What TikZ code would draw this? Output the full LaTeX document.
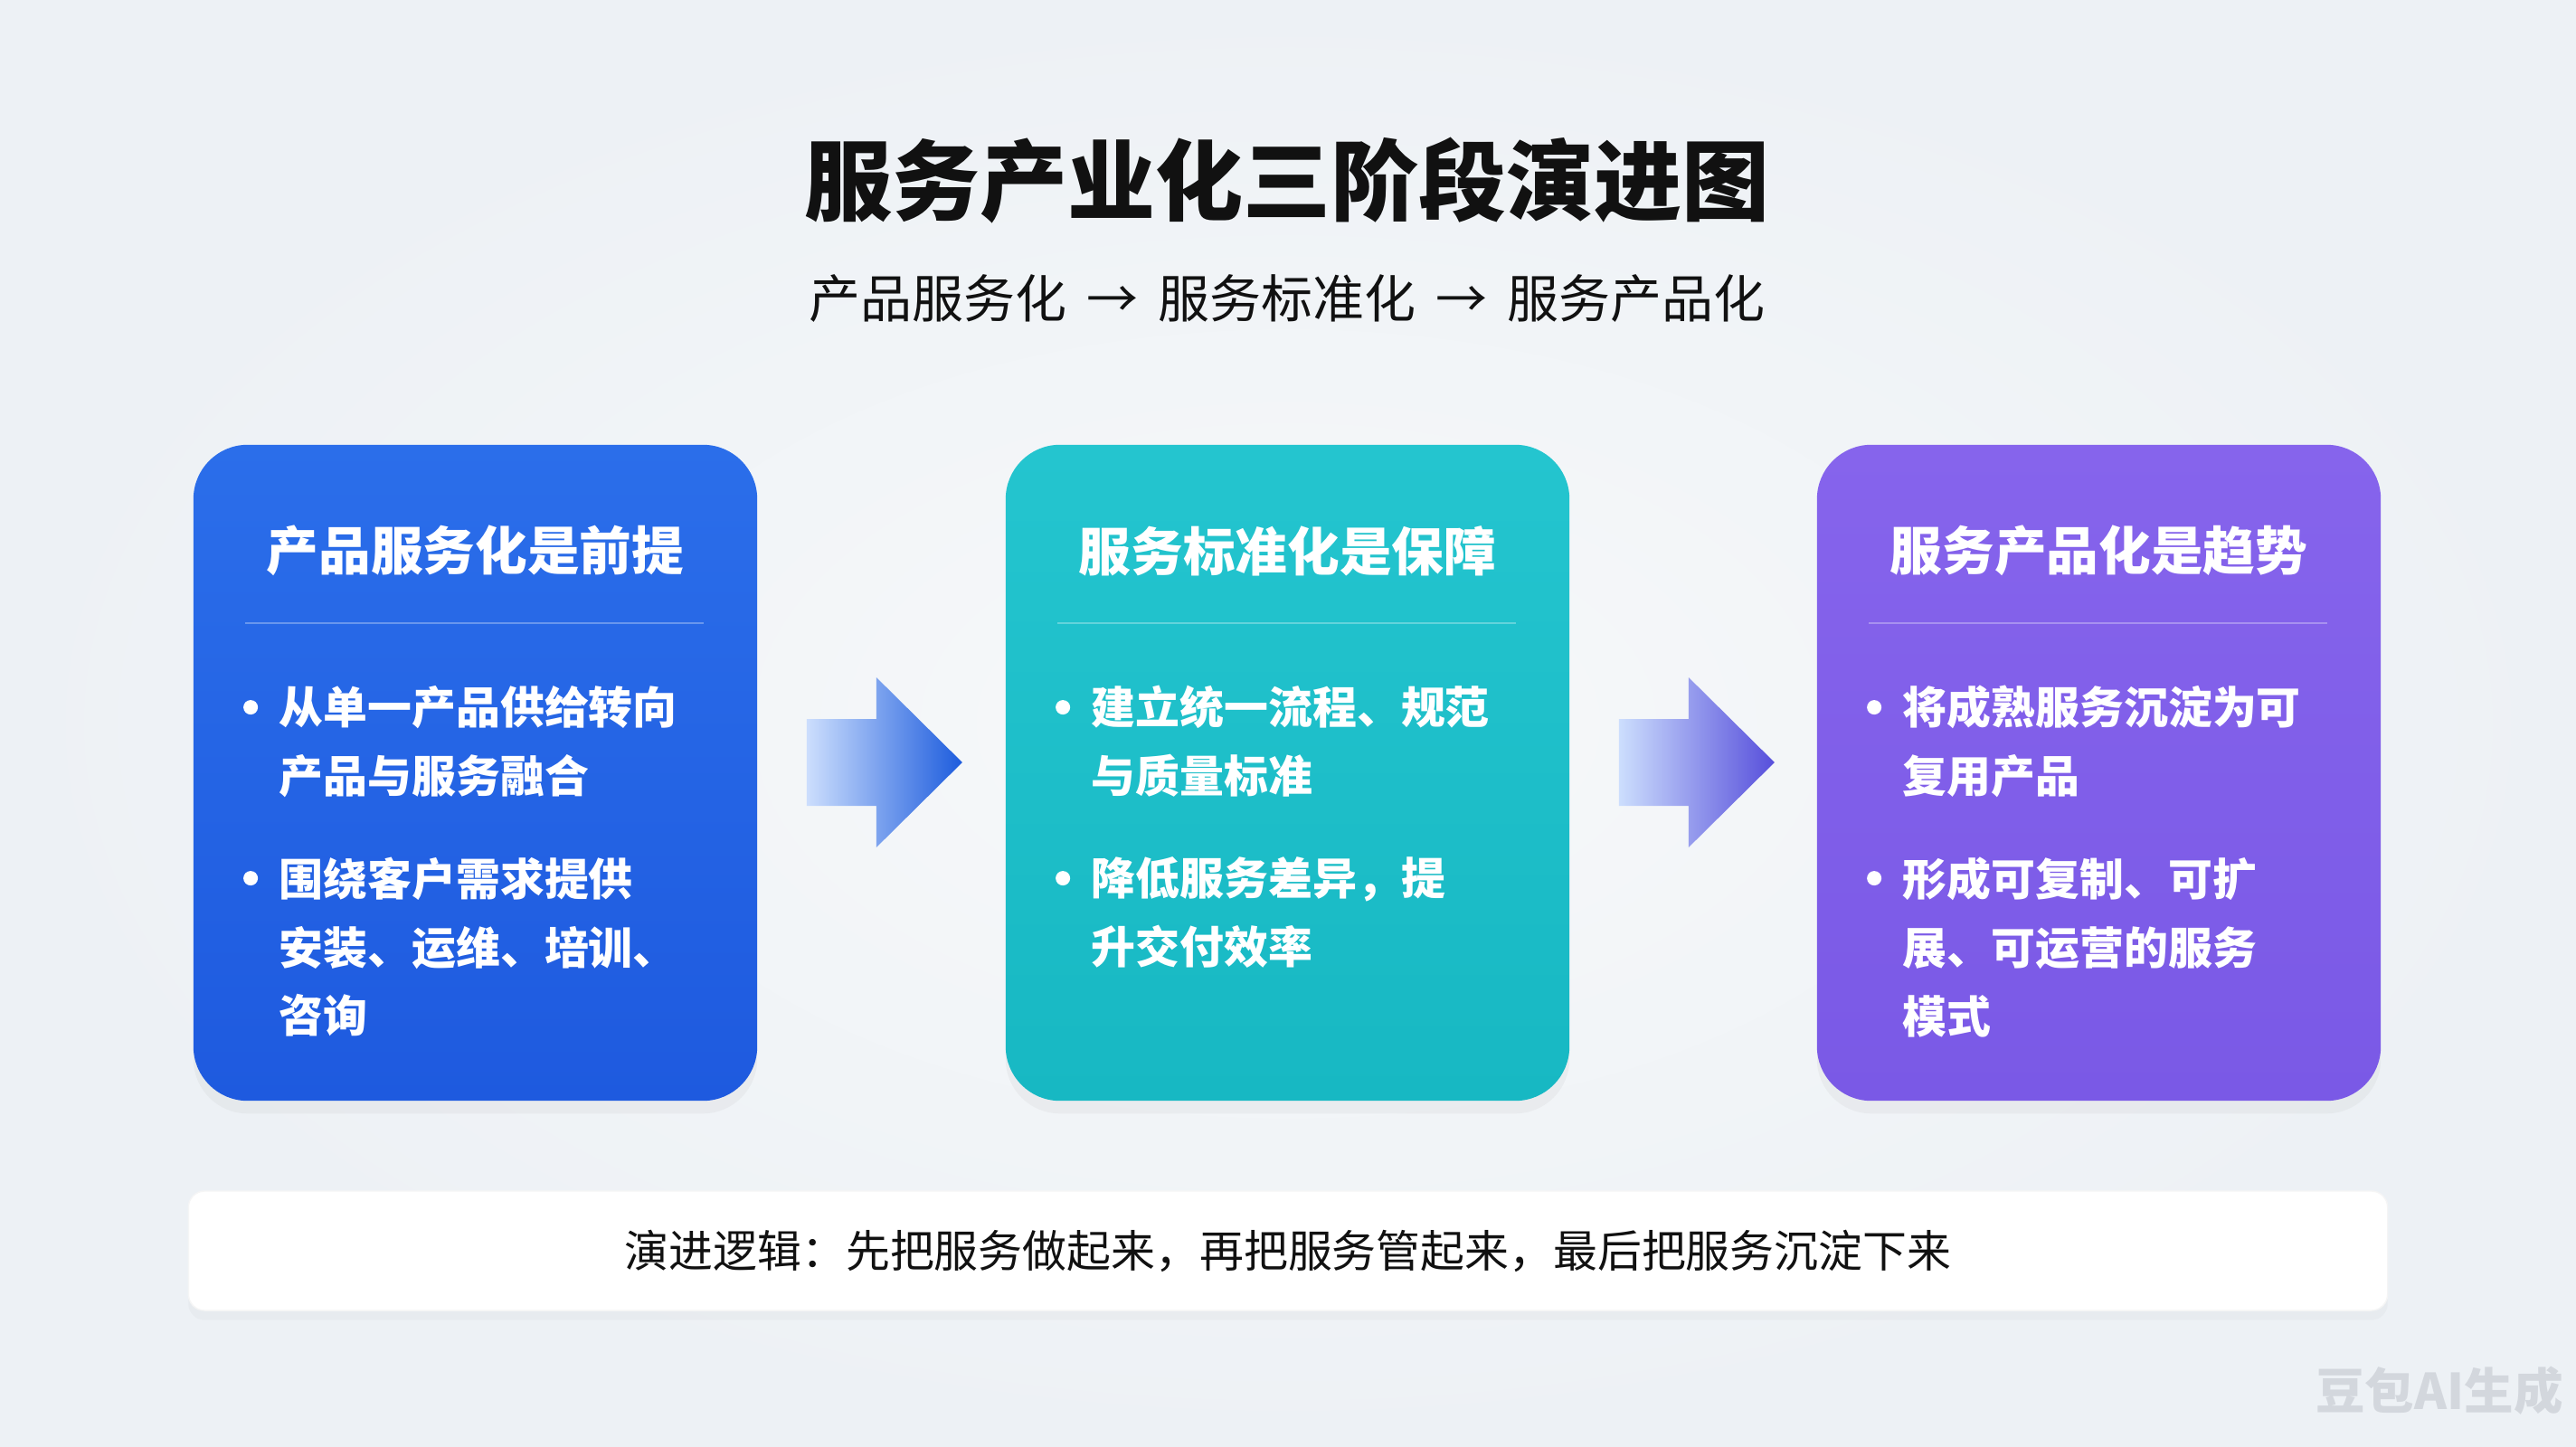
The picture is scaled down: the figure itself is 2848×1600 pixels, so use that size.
\documentclass[tikz,border=0pt]{standalone}
\usepackage{fontspec}
\setmainfont{Noto Sans CJK SC}
\usetikzlibrary{positioning}
\usetikzlibrary{calc}
\usetikzlibrary{shadows}

\definecolor{bg}{HTML}{EDF1F5}
\definecolor{ink}{HTML}{111111}
\definecolor{blueA}{HTML}{2B6EEA}
\definecolor{blueB}{HTML}{1E5ADF}
\definecolor{tealA}{HTML}{24C5CF}
\definecolor{tealB}{HTML}{17B8C3}
\definecolor{violetA}{HTML}{8664EC}
\definecolor{violetB}{HTML}{7A59E6}
\definecolor{arrPale}{HTML}{CCDEFD}
\definecolor{arrMidA}{HTML}{4A87EE}
\definecolor{arrBlue}{HTML}{1D5CDD}
\definecolor{arrMidB}{HTML}{7A8CEE}
\definecolor{arrIndigo}{HTML}{574FDB}
\definecolor{markgray}{HTML}{D3D7DD}

\tikzset{
	card/.style={minimum width=6.23cm, minimum height=7.25cm, rounded corners=0.6cm, inner sep=0pt,
		drop shadow={opacity=0.07, shadow xshift=0pt, shadow yshift=-4pt}},
	cardtitle/.style={inner sep=0pt, text=white, font=\fontsize{16.4}{20}\selectfont\bfseries},
	point/.style={anchor=west, align=left, inner sep=0pt, text=white, font=\fontsize{13.9}{21.6}\selectfont\bfseries},
	dot/.style={circle, fill=white, inner sep=0pt, minimum size=0.16cm},
	sepline/.style={white, opacity=0.3, line width=0.6pt},
}

\begin{document}
\begin{tikzpicture}[x=0.01cm, y=-0.01cm]
		\useasboundingbox (0,0) rectangle (2848,1600);
		\fill[bg] (0,0) rectangle (2848,1600);
		\shade[inner color=white!55!bg, outer color=bg] (0,0) rectangle (2848,1600);

		\node[inner sep=0pt, text=ink, font=\fontsize{27.6}{33}\selectfont\bfseries] (title) at (1423,200) {服务产业化三阶段演进图};
		\node[inner sep=0pt, text=ink, font=\fontsize{16.2}{20}\selectfont, below = 0.55cm of title] (sub) {产品服务化\ \,→\ \,服务标准化\ \,→\ \,服务产品化};

		\node[card, top color=blueA, bottom color=blueB] (b1) at (525.5,854.5) {};
		\node[card, top color=tealA, bottom color=tealB] (b2) at (1423.5,854.5) {};
		\node[card, top color=violetA, bottom color=violetB] (b3) at (2320.5,854.5) {};

		\node[cardtitle] (t1) at ($(b1.north)+(0,118)$) {产品服务化是前提};
		\node[cardtitle] (t2) at ($(b2.north)+(0,118)$) {服务标准化是保障};
		\node[cardtitle] (t3) at ($(b3.north)+(0,118)$) {服务产品化是趋势};
		\draw[sepline] ($(b1.north west)+(58,198)$) -- ($(b1.north east)+(-60,198)$);
		\draw[sepline] ($(b2.north west)+(58,198)$) -- ($(b2.north east)+(-60,198)$);
		\draw[sepline] ($(b3.north west)+(58,198)$) -- ($(b3.north east)+(-60,198)$);

		\node[dot] (d11) at ($(b1.north west)+(64,291)$) {};
		\node[point] (p11) at ($(b1.north west)+(95,329)$) {从单一产品供给转向\\产品与服务融合};
		\node[dot] (d12) at ($(b1.north west)+(64,480)$) {};
		\node[point] (p12) at ($(b1.north west)+(95,556)$) {围绕客户需求提供\\安装、运维、培训、\\咨询};

		\node[dot] (d21) at ($(b2.north west)+(64,291)$) {};
		\node[point] (p21) at ($(b2.north west)+(95,329)$) {建立统一流程、规范\\与质量标准};
		\node[dot] (d22) at ($(b2.north west)+(64,480)$) {};
		\node[point] (p22) at ($(b2.north west)+(95,518)$) {降低服务差异，提\\升交付效率};

		\node[dot] (d31) at ($(b3.north west)+(64,291)$) {};
		\node[point] (p31) at ($(b3.north west)+(95,329)$) {将成熟服务沉淀为可\\复用产品};
		\node[dot] (d32) at ($(b3.north west)+(64,480)$) {};
		\node[point] (p32) at ($(b3.north west)+(95,556)$) {形成可复制、可扩\\展、可运营的服务\\模式};

		\shade[left color=arrPale, middle color=arrMidA, right color=arrBlue]
		($(b1.east)+(54,-59.5)$) -- ++(77,0) -- ++(0,-46) -- ++(95,94) -- ++(-95,94) -- ++(0,-46) -- ++(-77,0) -- cycle;
		\shade[left color=arrPale, middle color=arrMidB, right color=arrIndigo]
		($(b2.east)+(54,-59.5)$) -- ++(77,0) -- ++(0,-46) -- ++(95,94) -- ++(-95,94) -- ++(0,-46) -- ++(-77,0) -- cycle;

		\node[fill=white, draw=black!4, minimum width=24.3cm, minimum height=1.32cm, rounded corners=0.18cm,
		drop shadow={opacity=0.05, shadow xshift=0pt, shadow yshift=-3pt},
		text=ink, font=\fontsize{13.9}{18}\selectfont] (logic) at (1424,1383) {演进逻辑：先把服务做起来，再把服务管起来，最后把服务沉淀下来};

		\node[inner sep=0pt, text=markgray, font=\fontsize{15.5}{18}\selectfont\bfseries] (mark) at (2697,1538) {豆包AI生成};
		\end{tikzpicture}
\end{document}
